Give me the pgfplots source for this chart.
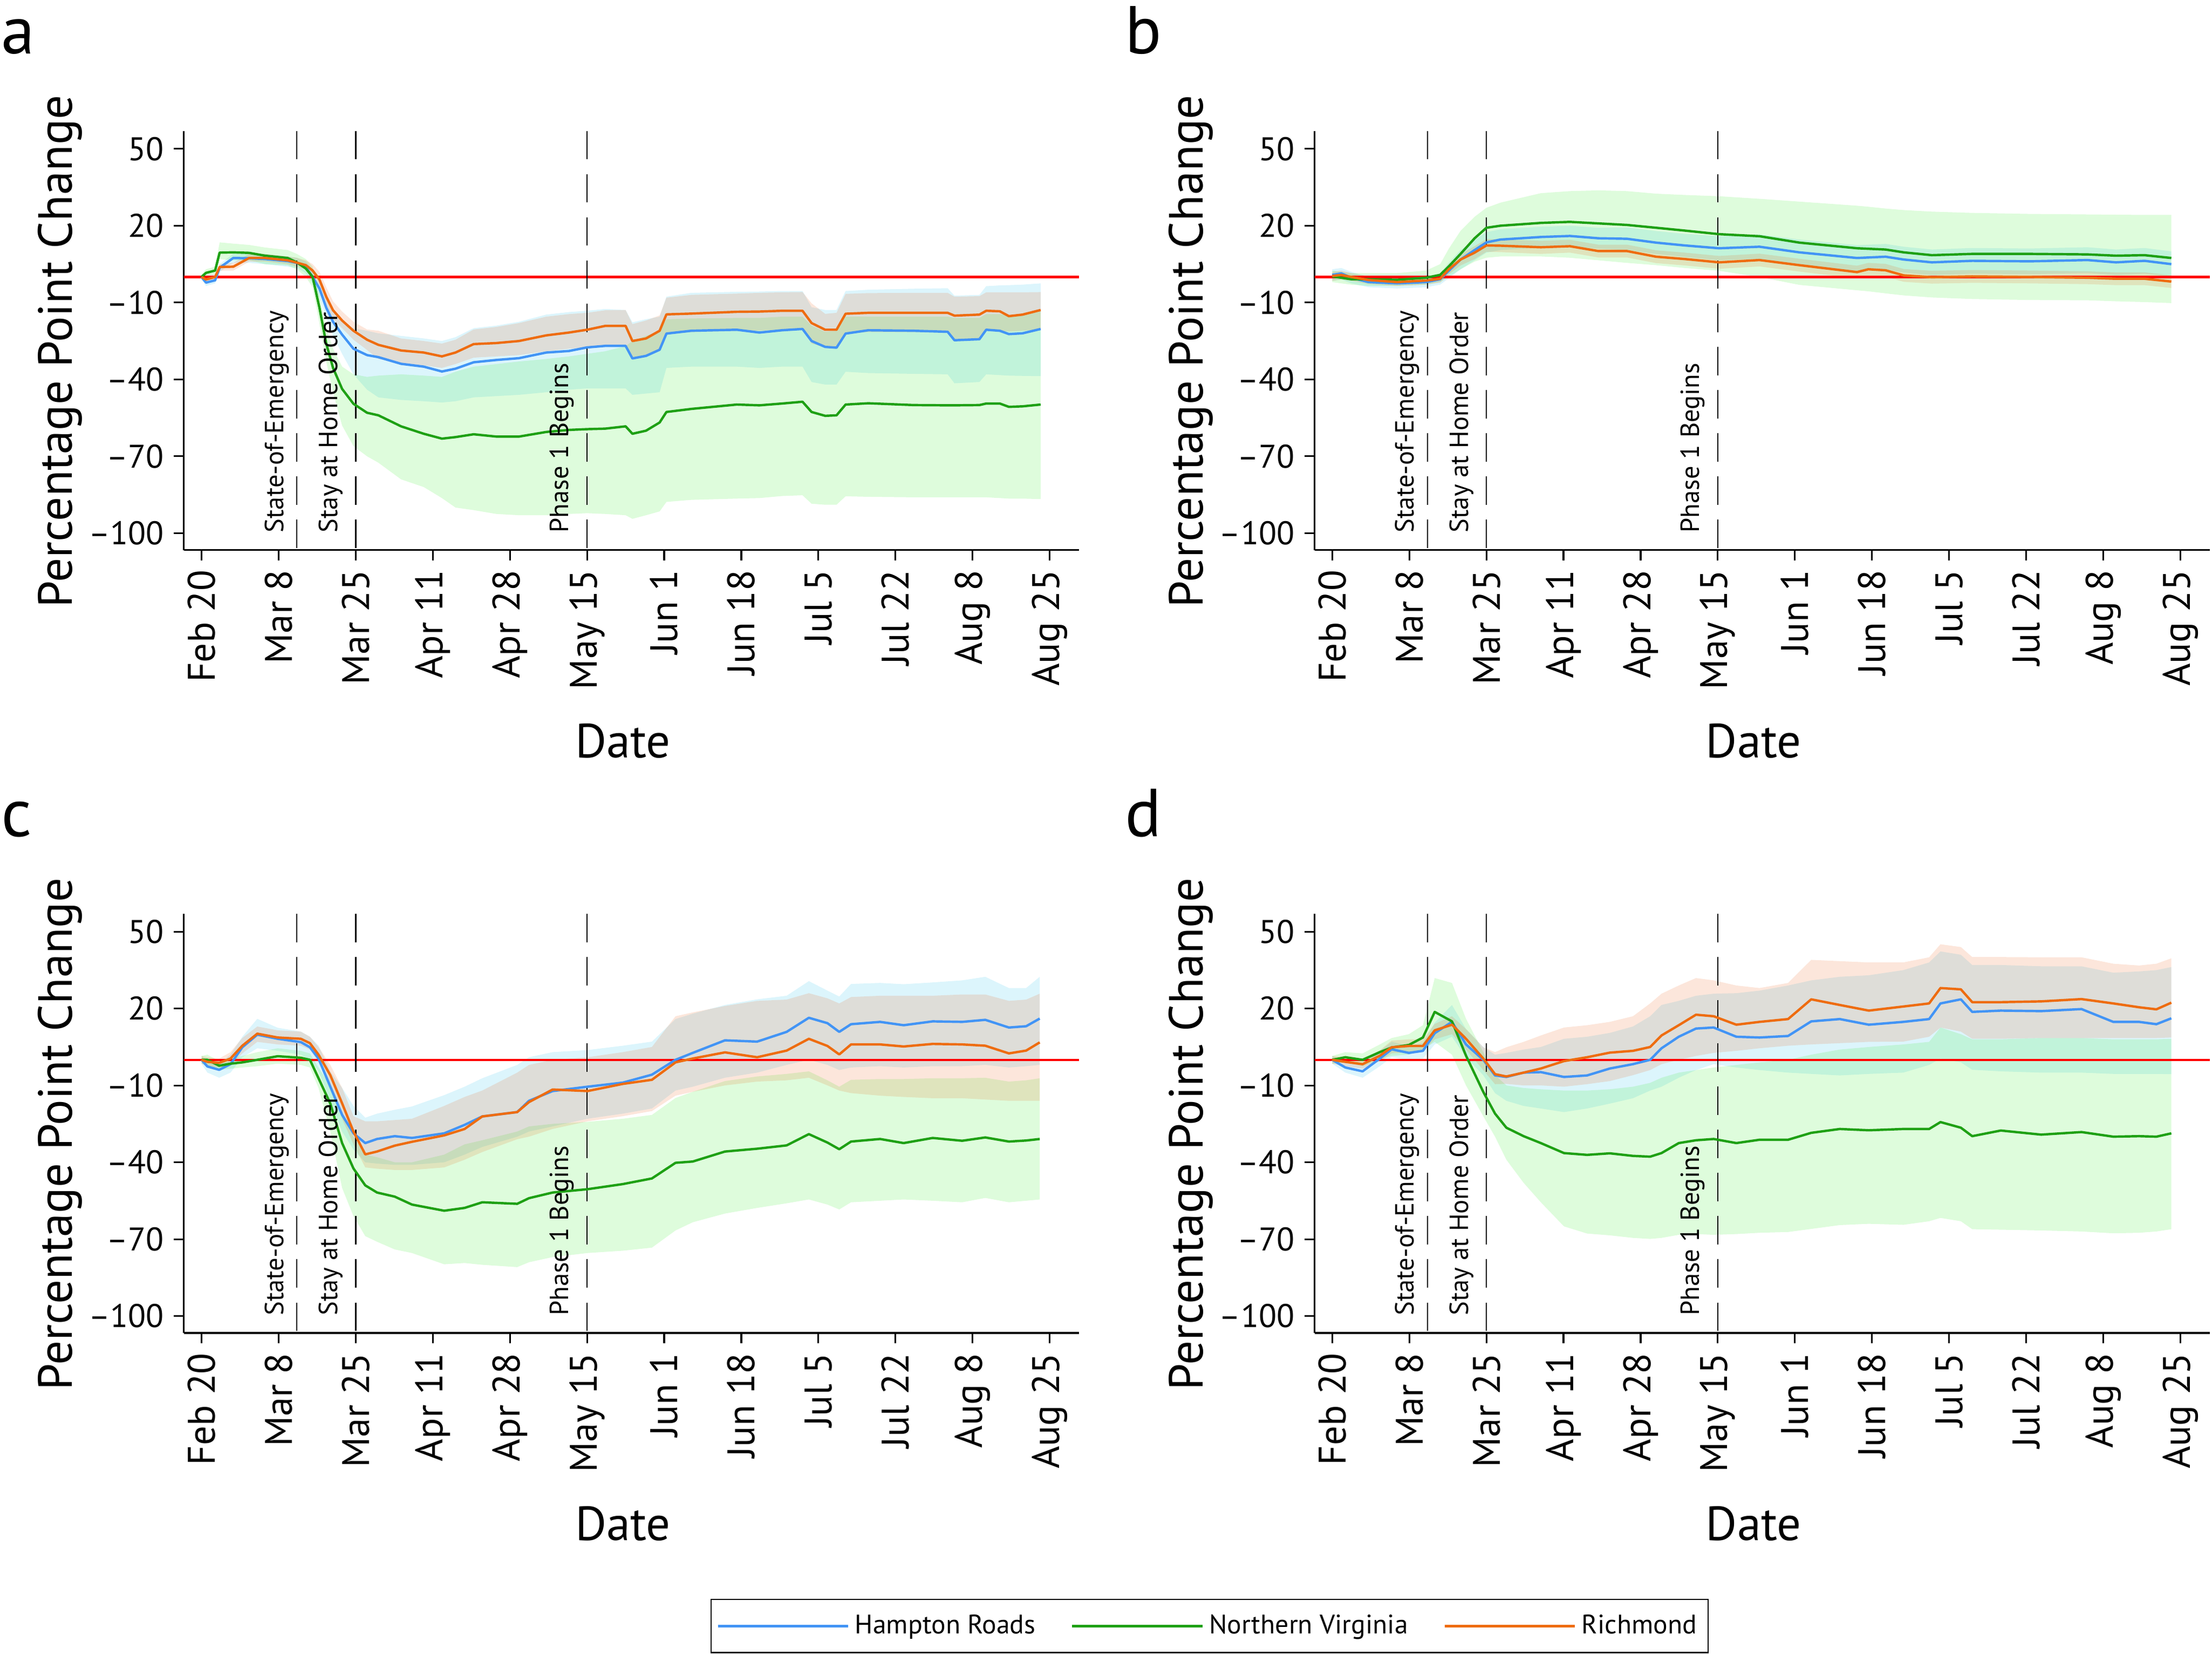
\documentclass[border=0pt]{standalone}
\usepackage{fontspec}
\setmainfont{PT Sans}
\usepackage{pgfplots}
\usepackage{pgfplotstable}
\pgfplotsset{compat=1.18}
\usepgfplotslibrary{fillbetween}

\definecolor{hrC}{RGB}{66,148,245}
\definecolor{nvC}{RGB}{30,160,20}
\definecolor{riC}{RGB}{238,108,16}
\definecolor{hrB}{RGB}{22,188,235}
\definecolor{nvB}{RGB}{35,235,22}
\definecolor{riB}{RGB}{234,80,0}

\pgfplotstableread{
d hr hrlo hrhi nv nvlo nvhi ri rilo rihi
0 0 -1 1 0 -1 1 0 -1 1
1 -2.2 -3.5 -1 1.6 0 3 -1 -2 0
3 -1.3 -2.5 0 2.5 1 4 0 -1 1
4 3.6 2 5 9.5 7 13.5 3.9 2.5 5
7 7.4 5.5 9 9.6 6.5 13 4 2.5 5.5
10.5 7.3 5.5 9 9.4 6.5 12.5 7.4 6 9
14 7 5 9 8.3 5 11.5 7.4 6 9
19 6.2 4 8 7.4 4.5 10.5 6.5 5 8
21 5.5 3.5 7.5 5.7 3 9 5.6 4 7.5
23 3.8 1.5 6 3.3 0 7 4.6 3 6.5
24.5 0 -2.5 3 0 -4 4 2.5 0.5 5
26 -4.5 -8 -1.5 -12 -18 -7 -1 -3.5 2
27.5 -12 -16 -8 -26 -33 -20 -7.7 -11 -4
29 -17.5 -23 -13 -35.5 -45 -28 -13 -16.5 -9.5
31 -22.5 -30 -17 -43.7 -58 -35 -17 -20 -13.5
33.5 -28 -38 -20 -49.5 -66 -38 -21 -24.5 -17.5
36.5 -30.5 -44 -21 -53 -70 -39 -24.5 -28.5 -20.5
39 -31.3 -47 -22 -54 -72.5 -38.5 -26.5 -32 -21
44 -33.9 -48 -23 -58.3 -79 -38 -28.7 -33.5 -24
49 -35 -48.5 -24 -61.2 -82 -38.5 -29.5 -34.5 -25
53 -36.9 -49 -25 -63.1 -86.3 -39 -31 -35.5 -26
56 -35.8 -48.5 -23.5 -62.5 -90 -37 -29.5 -34 -24.5
60 -33.3 -47 -20 -61.4 -91 -35 -26.2 -31.5 -20.5
65 -32.4 -46.5 -19 -62.3 -92.5 -34 -25.8 -31 -19.5
70 -31.7 -46 -17.5 -62.3 -93 -33 -25 -30.5 -18
76 -29.5 -45 -14.7 -60.5 -93 -32 -22.8 -29 -15.5
81 -28.9 -44 -13.7 -59.7 -92.5 -31 -21.7 -28 -14.5
85 -27.5 -43.5 -13.2 -59.4 -92.2 -30 -20.6 -27.5 -14
89 -26.9 -43.5 -12.5 -59.2 -92.5 -29 -19.1 -27 -13
93.5 -26.9 -43.5 -12.9 -58.3 -93 -27 -19.1 -27 -12.9
95 -31.8 -46 -17.7 -61.2 -94.4 -25 -25 -31.5 -18.4
98 -30.8 -45.5 -16.5 -60 -93 -23 -24 -30.5 -17
101 -28.4 -45 -15.5 -56.8 -91.5 -21 -21 -28.5 -15
102.5 -22.1 -35.5 -7.7 -52.7 -87.8 -16.5 -14.6 -22 -8.1
108 -21 -35 -6.2 -51.5 -87 -16.2 -14.3 -21.5 -7
118 -20.6 -35 -5.8 -49.8 -86.5 -16 -13.6 -21 -6.5
123 -21.7 -35.5 -5.7 -50.1 -86.3 -16 -13.5 -21 -6.2
128 -20.8 -35 -5.5 -49.4 -85.5 -15.5 -13.2 -20.5 -6
132.5 -20.3 -35 -5.5 -48.7 -85.2 -15.5 -13.2 -20.5 -5.9
134.5 -25 -41 -11.8 -52.7 -88.5 -19 -18 -26 -10.3
137.5 -27.3 -42 -12.9 -54.2 -88.9 -21.4 -20.6 -27.5 -14.4
140 -27.6 -42 -12.9 -54 -88.9 -21 -20.6 -27.5 -14
142 -22.1 -37 -5.5 -49.8 -85.6 -15.5 -14.35 -22 -6.6
147 -20.8 -37.5 -5 -49.3 -85.8 -15.5 -14 -21.5 -6.3
157 -21 -37.8 -4.6 -50 -86 -15.5 -14 -21.5 -6.2
164.5 -21.4 -38 -4.4 -50.1 -86 -15.5 -14 -21.5 -6.2
166 -24.7 -41.5 -7.3 -50.1 -86 -16 -15.1 -24.5 -7.7
171.5 -24.3 -41 -7 -50 -86 -16 -14.7 -24 -7.5
173 -20.6 -38 -3.6 -49.4 -86 -14.5 -13.2 -21 -6
176 -21 -38.3 -3.3 -49.4 -86.3 -14.5 -13.4 -21 -6
178 -22.3 -38.5 -3.2 -50.7 -86.5 -15 -15.3 -21.3 -6
181 -22 -38.6 -3 -50.5 -86.5 -14.5 -14.7 -21 -6
185 -20.3 -38.7 -2.5 -49.8 -86.7 -13 -12.9 -20.5 -5.9
}\tA

\pgfplotstableread{
d hr hrlo hrhi nv nvlo nvhi ri rilo rihi
0 0.8 -1.5 3 0.2 -2 2.5 0.4 -1.5 2
2 1.4 -1 3.5 -0.3 -2.5 2 0.8 -1 2.5
4.2 -0.3 -2.5 2 -0.9 -3 1.5 0 -1.5 1.5
8 -2 -4 0 -0.9 -3.5 1.5 -1.2 -2.8 0.3
14.3 -2.5 -4.5 -0.5 -1.1 -3.5 1.5 -2 -3.5 -0.5
20.7 -2 -4 0 -0.3 -3 2.5 -1.4 -3 0
23.8 -0.9 -3 1.5 0.8 -2 5 -0.7 -2.2 1
25.7 2.4 -0.5 5.5 4.1 0 11 3 1 5
28.3 6.8 3 10.5 9 3 18 6.8 4.5 9
31.4 10.5 6.5 14.5 15.1 6 23.5 9.5 7 12
34 13.5 9.5 17.5 19.2 7.5 27 12.3 9.8 14.8
37.1 14.6 10.5 18.6 20 8 29 12.2 9.7 14.7
46 15.6 11.5 19.6 21.1 8 32.7 11.6 9 14.1
52.4 16 12 20 21.5 7.5 33.5 12 9.5 14.5
58.7 15.1 11 19.2 20.9 6.5 33.8 10.1 7.6 12.6
65 14.9 10.5 19.3 20.3 5.5 33.5 10.1 7.6 12.6
71.4 13.4 9 17.9 19.2 4.6 32.5 7.9 5.4 10.4
77.7 12.3 7.8 16.8 18.1 3.5 32 7 4.5 9.5
85.3 11.2 6.5 15.9 16.7 2.4 31.5 5.7 3.2 8.2
94.2 11.8 7 16.6 15.9 0 30.5 6.6 4.1 9.1
103 9.6 4.6 14.6 13.4 -3.1 29.4 4.6 2.1 7.1
115.7 7.4 2.4 12.4 11.2 -5.2 27.8 1.9 -0.6 4.4
118.2 7.6 2.6 12.6 11 -5.6 27.4 3 0.5 5.5
122 7.9 2.9 12.9 10.7 -6.4 26.7 2.6 0.1 5.1
126 6.8 1.8 11.8 9.6 -7.2 26.1 0.6 -1.9 3.1
132.2 5.7 0.7 10.7 8.5 -8 25.5 -0.1 -2.6 2.4
141.1 6.3 1.3 11.3 9 -8.6 25 0.2 -2.3 2.7
153.8 6.1 1.1 11.1 9 -9 24.6 0 -2.5 2.5
166.5 6.6 1.6 11.6 8.8 -9.1 24.4 -0.3 -2.8 2.2
172.8 5.7 0.7 10.7 8.3 -9.5 24.3 -0.7 -3.2 1.8
179.1 6.3 1.3 11.3 8.5 -9.8 24.2 -0.7 -3.2 1.8
185 5 0 10 7.4 -10.2 24.2 -1.8 -4.3 0.7
}\tB

\pgfplotstableread{
d hr hrlo hrhi nv nvlo nvhi ri rilo rihi
0 0 -1.5 1.5 0 -1.5 1.5 0 -1.5 1.5
1.3 -2.6 -5 -0.5 0 -2 2 -0.8 -2.5 1
3.9 -3.9 -7 -1.5 -2.3 -4 -0.5 -1.2 -3 0.5
6.4 -1.7 -5 2 -1.5 -3.5 0.5 0.5 -2 3
9 4.9 1 9 -1 -3 1.5 5.5 2.5 8.5
12.3 9.8 4.5 16 0 -2.5 3 10.2 7 13
16.8 8.2 3.5 12.5 1.4 -1.5 4.5 8.7 6 11.5
21.9 6.9 2 11 0.8 -2 3.5 8.2 5.5 11
23.9 4.9 0 9 0 -3 2.5 6.5 4 9
25.8 0.5 -4.5 5.5 -7.2 -11 -3 2 -1 5
28.4 -10.5 -16 -4.5 -17.1 -28 -10 -6 -10 -2
31 -21.5 -28 -11 -32.5 -50 -22 -17 -23 -11
33.5 -28.7 -35 -18 -42.4 -61 -30 -28 -33 -22
36.1 -32.5 -40 -22.6 -49 -68.8 -37 -36.9 -42 -24
38.7 -30.9 -40.5 -21 -51.8 -71 -38 -35.8 -42.5 -24
42.6 -29.8 -41 -19.5 -53.4 -74 -40 -33.5 -43 -23.5
46.4 -30.5 -41 -18.2 -56.5 -75.4 -40 -32 -43 -23
53.5 -28.7 -40 -13.8 -58.9 -79.8 -37 -29.5 -42 -18
58 -25.4 -37 -10.5 -57.8 -79.3 -33 -27 -39 -14.5
61.9 -22.1 -34 -7.2 -55.6 -80 -31.4 -22.1 -36 -12
69.6 -20.4 -30 -2 -56.2 -80.9 -28 -20.4 -31 -5
72.2 -16 -28 1 -54 -79 -26 -16.5 -30 -2
77.4 -12.2 -26 3 -51.8 -77 -25 -11.6 -27 0
85.1 -10.5 -23 3.8 -50.5 -75.4 -24.2 -12.2 -24 1
92.9 -8.9 -21 5.5 -48.5 -74.5 -23 -9.4 -22 3
99.3 -5.8 -19 7.1 -46.3 -73.3 -21.5 -7.8 -20 5
104.5 0 -12 15.9 -40.2 -66.6 -14.9 -1 -14 17
108.3 2.7 -10.5 18 -39.7 -63.4 -12.5 0.5 -12.5 18.5
115.4 7.6 -7 21.4 -35.8 -60 -8.3 2.9 -10 21
122.5 7.1 -5 23.6 -34.7 -57.8 -6.5 1 -8.5 23
129 10.9 -2 25 -33.4 -56 -5.5 3.6 -8 23.5
133.9 16.4 0 30.7 -29 -54.5 -4.5 8.2 -7 26
138 14.3 -2 27 -32.3 -56.5 -8 5.4 -10 24
140.6 10.9 -4 24.7 -34.9 -58.4 -10.5 2.1 -12 22
143.2 13.9 -3 29.6 -31.9 -55.6 -7.8 6 -13 24.5
149.6 14.8 -2.5 30 -30.9 -55 -7.5 6 -14 25
154.8 13.5 -3 29.5 -32.5 -54.5 -7.5 5.2 -14.5 25
161.2 15 -2.5 30.2 -30.5 -55 -7.2 6.2 -15 25
167.7 14.8 -2.5 31 -31.6 -55.6 -7.2 6 -15 25.5
172.8 15.6 -2 32.4 -30.3 -53.9 -7 5.5 -15.5 25.5
178 12.6 -3 28 -31.9 -55.6 -8.5 2.5 -16 23
181.8 13.1 -2.5 28 -31.5 -55 -8 3.6 -16 23.5
184.8 16.1 -2 32.4 -30.9 -54.5 -7.2 6.8 -16 25.8
}\tC

\pgfplotstableread{
d hr hrlo hrhi nv nvlo nvhi ri rilo rihi
0 0 -1.5 1.5 0 -1.5 1.5 0 -1.5 1.5
2.9 -3 -5 -1 1 -1 3 -0.8 -2.5 1
6.7 -4.5 -7 -2 0 -2.5 2.5 -1.7 -3.5 0
10.5 0.5 -2.5 3.5 3 0 6 1.6 -0.5 3.7
13.1 4.1 1 7 4.8 1.5 8.5 4.9 2.5 7.5
16.9 2.7 0 5.5 5.8 2 10 5.4 3 8
20 3.5 0.5 6.5 8.7 4 13.5 5.4 3 8
22.6 10.4 6 14.5 18.7 7 31.9 11.5 8 14
26.4 14.8 9 21.4 15 2 30 13.7 10 17
29.5 6 1 12 1.6 -10 16 8.2 4 12
33.3 0 -6 5 -12.5 -22 3 0.5 -4 4.9
35.9 -6.1 -13 2 -21 -30 -6 -5.6 -9.5 3
38.4 -6.7 -16 2.7 -26.5 -39 -10 -6.5 -9.4 4.9
42.2 -5 -18 4 -29.8 -48 -11 -5 -10 7
46 -4.8 -19 5 -32.5 -55.6 -11.5 -3.4 -10 9.5
51.1 -6.7 -20.4 8.2 -36.4 -65 -12 -0.5 -10.5 12.6
56.2 -6.1 -19 9 -37.1 -67.8 -12 1 -9.5 13.5
61.2 -3.4 -17.1 10.5 -36.5 -68.5 -11.5 2.8 -8.3 14.8
66.3 -1.7 -15 13 -37.5 -69.5 -10.5 3.5 -6 17
70.1 0 -12 17 -37.8 -69.9 -9 5 -4 22
72.6 4.5 -10.5 21.4 -36.4 -69.5 -7 9.5 -1.7 25.8
76.4 9 -7 23 -32.5 -68.3 -5 13.5 0 29
80.2 12.2 -4 25 -31.4 -68 -4 17.6 1.5 31.9
84.1 12.6 -1.7 25.8 -30.9 -68.3 -3 17 2.7 31
89.1 9 -3 26 -32.5 -68 -2 13.7 3.5 29
94.2 8.7 -4 27 -31.2 -67.5 -1 14.8 4.5 28
100.5 9.3 -5 29 -31.2 -67.2 0 15.9 5.5 30
105.6 15 -5.5 31 -28.5 -66 2 23.6 6 39
111.9 15.9 -6.1 32.4 -27 -64.5 4 21.4 6.5 38.5
118.3 13.7 -5.5 33 -27.5 -64 5 19.2 7 38
125.9 14.8 -5 35 -27 -64.4 6 20.8 7.1 38
131.6 15.9 -2 38 -27 -63 7 22 9 40
134.1 22 0.5 42.3 -24.3 -61.7 12.6 28 12.6 45.1
138.6 23.6 -1 41 -26.5 -63 10 27.5 11 44
141.1 18.7 -3.9 37 -29.8 -66.1 8 22.5 8.2 40.1
147.4 19.2 -4.5 37 -27.6 -66.3 8 22.5 8.2 40.1
156.3 19 -5 36.5 -29.2 -66.6 8.5 22.8 8.5 40
165.2 19.8 -5 36.5 -28.2 -67 8.5 23.7 8.5 40
172.2 14.8 -5.5 34 -30 -67.7 8 22 8.5 37.5
177.9 14.8 -5.5 34.5 -29.8 -67.5 8 20.5 8.5 36.8
181.7 13.9 -5.5 35 -30 -67 8 19.7 8.5 37.5
185 16.2 -5.6 36.2 -28.7 -66.1 8.2 22.3 8.7 39.6
}\tD

\tikzset{
  ann/.style={font=\fontsize{9.3}{10}\selectfont, rotate=90, anchor=south west, inner sep=0pt},
  ln/.style={line width=0.85pt, line join=round},
  vl/.style={black, line width=0.5pt, dash pattern=on 10pt off 5.3pt},
}
\pgfplotsset{
  panel/.style={
    scale only axis, width=317.35pt, height=148.5pt,
    anchor=south west,
    xmin=-3.9, xmax=193.5, ymin=-106.6, ymax=56.9,
    axis x line*=bottom, axis y line*=left,
    axis line style={line width=0.65pt, -},
    tick style={line width=0.6pt, black},
    tick align=outside, major tick length=3.6pt,
    xtick={0,17,34,51,68,85,102,119,136,153,170,187},
    xticklabels={Feb 20,Mar 8,Mar 25,Apr 11,Apr 28,May 15,Jun 1,Jun 18,Jul 5,Jul 22,Aug 8,Aug 25},
    ytick={-100,-70,-40,-10,20,50},
    yticklabels={–100,–70,–40,–10,20,50},
    x tick label style={rotate=90, anchor=east, font=\fontsize{13.6}{14}\selectfont},
    y tick label style={font=\fontsize{11.6}{12}\selectfont},
    legend image code/.code={\path (-2.5pt,0pt) -- (43.7pt,0pt); \draw[#1] (0pt,0pt) -- (40pt,0pt);},
  },
}

\newcommand{\panelbody}[2]{%
  \addplot[red, line width=0.8pt, forget plot] coordinates {(-3.9,0) (193.5,0)};
  \addplot[vl, forget plot] coordinates {(21,56.9) (21,-106.6)};
  \addplot[vl, forget plot] coordinates {(34,56.9) (34,-106.6)};
  \addplot[vl, forget plot] coordinates {(85,56.9) (85,-106.6)};
  \addplot[draw=none, forget plot, name path=hrU] table[x=d,y=hrhi]{#1};
  \addplot[draw=none, forget plot, name path=hrL] table[x=d,y=hrlo]{#1};
  \addplot[fill=hrB, fill opacity=0.15, draw=none, forget plot] fill between[of=hrU and hrL];
  \addplot[draw=none, forget plot, name path=nvU] table[x=d,y=nvhi]{#1};
  \addplot[draw=none, forget plot, name path=nvL] table[x=d,y=nvlo]{#1};
  \addplot[fill=nvB, fill opacity=0.15, draw=none, forget plot] fill between[of=nvU and nvL];
  \addplot[draw=none, forget plot, name path=riU] table[x=d,y=rihi]{#1};
  \addplot[draw=none, forget plot, name path=riL] table[x=d,y=rilo]{#1};
  \addplot[fill=riB, fill opacity=0.14, draw=none, forget plot] fill between[of=riU and riL];
  \addplot[ln, hrC, #2] table[x=d,y=hr]{#1};
  \addplot[ln, nvC, #2] table[x=d,y=nv]{#1};
  \addplot[ln, riC, #2] table[x=d,y=ri]{#1};
  \node[ann] at ([xshift=-2.6pt]axis cs:21,-100) {State-of-Emergency};
  \node[ann] at ([xshift=-4.4pt]axis cs:34,-100) {Stay at Home Order};
  \node[ann] at ([xshift=-4.4pt]axis cs:85,-100) {Phase 1 Begins};
}

\begin{document}
\begin{tikzpicture}
\path (0,0) rectangle (784pt,586.6pt);

\begin{axis}[panel, at={(65.15pt,391.6pt)}]
\panelbody{\tA}{forget plot}
\end{axis}

\begin{axis}[panel, at={(465.9pt,391.6pt)}]
\panelbody{\tB}{forget plot}
\end{axis}

\begin{axis}[panel, at={(65.15pt,114.1pt)},
  legend style={at={(1.1456,-0.6997)}, anchor=center, draw=black, line width=0.5pt,
    font=\fontsize{9.5}{11}\selectfont, inner xsep=2pt, inner ysep=3.3pt,
    /tikz/every even column/.append style={column sep=10.5pt}},
  legend columns=3, legend cell align=left]
\panelbody{\tC}{}
\addlegendentry{Hampton Roads}
\addlegendentry{Northern Virginia}
\addlegendentry{Richmond}
\end{axis}

\begin{axis}[panel, at={(465.9pt,114.1pt)}]
\panelbody{\tD}{forget plot}
\end{axis}

\node[rotate=90, font=\fontsize{17}{17}\selectfont] at (21.3pt,462.1pt) {Percentage Point Change};
\node[rotate=90, font=\fontsize{17}{17}\selectfont] at (422pt,462.1pt) {Percentage Point Change};
\node[rotate=90, font=\fontsize{17}{17}\selectfont] at (21.3pt,184.6pt) {Percentage Point Change};
\node[rotate=90, font=\fontsize{17}{17}\selectfont] at (422pt,184.6pt) {Percentage Point Change};
\node[anchor=base, font=\fontsize{17}{17}\selectfont] at (220.75pt,318.1pt) {Date};
\node[anchor=base, font=\fontsize{17}{17}\selectfont] at (621.5pt,318.1pt) {Date};
\node[anchor=base, font=\fontsize{17}{17}\selectfont] at (220.75pt,40.6pt) {Date};
\node[anchor=base, font=\fontsize{17}{17}\selectfont] at (621.5pt,40.6pt) {Date};
\node[anchor=base west, inner sep=0pt, font=\fontsize{24}{24}\selectfont] at (0.3pt,567.6pt) {a};
\node[anchor=base west, inner sep=0pt, font=\fontsize{24}{24}\selectfont] at (398.5pt,567.6pt) {b};
\node[anchor=base west, inner sep=0pt, font=\fontsize{24}{24}\selectfont] at (0.3pt,290.1pt) {c};
\node[anchor=base west, inner sep=0pt, font=\fontsize{24}{24}\selectfont] at (398.5pt,290.1pt) {d};
\end{tikzpicture}
\end{document}
